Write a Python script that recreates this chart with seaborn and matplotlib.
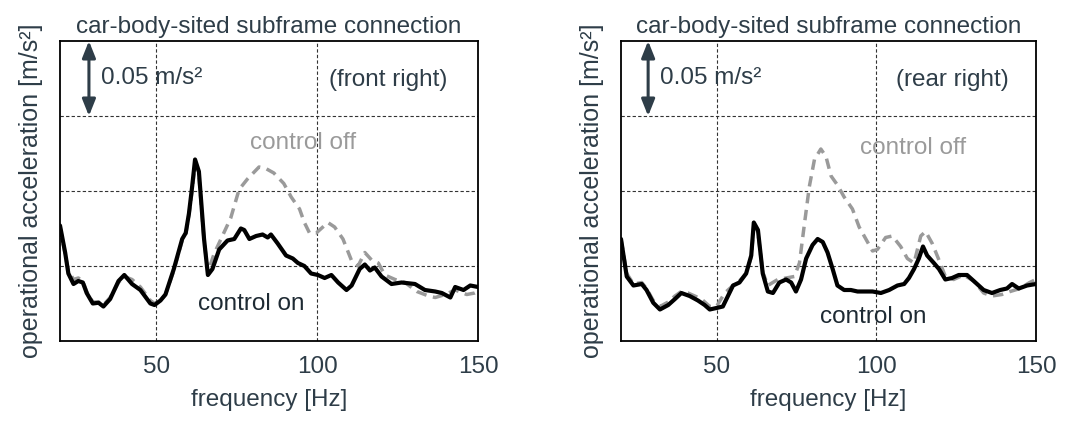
import matplotlib
matplotlib.use("Agg")
import matplotlib.pyplot as plt
import seaborn as sns
import pandas as pd

# ---------------- data ----------------
front_on_f = [20, 21.6, 22.6, 24.2, 25.7, 27.1, 28.3, 30.2, 32.0, 33.5, 35.6, 38.2, 40.0, 42.4, 45.0,
              48.1, 49.4, 51.25, 52.8, 55.4, 58.0, 59.1, 60.1, 61.1, 62.0, 63.2, 64.8, 66.0, 67.4,
              69.5, 72.1, 74.2, 76.25, 77.3, 78.9, 81.0, 83.0, 84.6, 85.6, 87.7, 90.3, 92.4, 94.0,
              96.0, 98.1, 100.2, 102.3, 104.4, 106.5, 109.1, 110.7, 113.2, 114.8, 116.4, 117.9,
              120.0, 123.1, 126.25, 130.4, 133.5, 136.7, 138.75, 141.4, 142.9, 145.5, 147.6, 150]
front_on_a = [0.077, 0.059, 0.045, 0.038, 0.040, 0.039, 0.032, 0.025, 0.0255, 0.023, 0.028, 0.040,
              0.044, 0.038, 0.034, 0.025, 0.024, 0.027, 0.031, 0.048, 0.068, 0.072, 0.085, 0.103,
              0.121, 0.113, 0.068, 0.044, 0.048, 0.061, 0.067, 0.068, 0.075, 0.074, 0.068, 0.070,
              0.071, 0.069, 0.071, 0.065, 0.057, 0.055, 0.052, 0.050, 0.045, 0.044, 0.042, 0.044,
              0.039, 0.034, 0.037, 0.048, 0.051, 0.047, 0.049, 0.043, 0.038, 0.039, 0.038, 0.034,
              0.033, 0.032, 0.029, 0.036, 0.034, 0.037, 0.036]

front_off_f = [20, 21.6, 22.6, 24.2, 25.7, 27.1, 28.3, 30.2, 32.0, 33.5, 35.6, 38.2, 40.0, 42.4, 45.0,
               48.1, 49.4, 51.25, 52.8, 55.4, 58.0, 59.1, 60.1, 61.1, 62.0, 63.2, 64.8, 66.0, 67.9,
               70.5, 73.1, 75.7, 78.3, 81.9, 84.0, 86.5, 89.6, 91.9, 94.5, 96.0, 97.6, 99.7, 103.3,
               105.4, 108.0, 110.6, 112.7, 114.8, 116.9, 119.0, 121.0, 124.2, 127.3, 131.0, 134.6,
               136.7, 139.8, 142.9, 146.5, 149.0, 150]
front_off_a = [0.076, 0.058, 0.047, 0.041, 0.042, 0.040, 0.033, 0.026, 0.026, 0.024, 0.029, 0.039,
               0.043, 0.041, 0.036, 0.027, 0.025, 0.027, 0.031, 0.047, 0.067, 0.071, 0.084, 0.100,
               0.118, 0.110, 0.067, 0.046, 0.058, 0.070, 0.082, 0.101, 0.108, 0.116, 0.115, 0.112,
               0.105, 0.096, 0.088, 0.079, 0.072, 0.072, 0.079, 0.076, 0.068, 0.054, 0.050, 0.059,
               0.054, 0.052, 0.044, 0.041, 0.039, 0.033, 0.030, 0.029, 0.031, 0.034, 0.031, 0.032,
               0.033]

rear_on_f = [20, 21.8, 23.9, 26.5, 28.0, 30.1, 32.2, 34.8, 36.9, 38.9, 41.5, 44.1, 46.2, 47.8, 49.9,
             51.9, 53.5, 55.1, 57.1, 59.2, 60.8, 61.6, 62.9, 64.4, 66.0, 67.6, 69.6, 71.7, 73.3,
             74.8, 76.4, 78.0, 80.0, 81.6, 83.2, 84.7, 86.3, 87.8, 89.9, 92.0, 94.1, 96.7, 98.8,
             101.4, 104.0, 106.6, 108.7, 110.2, 111.8, 113.3, 114.6, 115.9, 118.0, 119.6, 121.6,
             123.7, 125.8, 128.4, 130.5, 133.6, 136.2, 138.8, 140.9, 142.5, 144.6, 147.2, 150]
rear_on_a = [0.068, 0.043, 0.037, 0.038, 0.034, 0.0255, 0.021, 0.024, 0.028, 0.032, 0.030, 0.027,
             0.024, 0.021, 0.022, 0.023, 0.030, 0.037, 0.039, 0.045, 0.057, 0.079, 0.074, 0.045,
             0.033, 0.032, 0.039, 0.041, 0.039, 0.033, 0.041, 0.055, 0.064, 0.068, 0.066, 0.059,
             0.048, 0.037, 0.034, 0.034, 0.033, 0.033, 0.033, 0.032, 0.034, 0.037, 0.038, 0.042,
             0.048, 0.055, 0.063, 0.057, 0.052, 0.048, 0.041, 0.042, 0.044, 0.044, 0.040, 0.034,
             0.032, 0.034, 0.035, 0.038, 0.035, 0.037, 0.038]

rear_off_f = [20, 21.8, 23.9, 26.5, 28.0, 30.1, 32.2, 34.8, 36.9, 38.9, 41.0, 45.2, 47.8, 49.9,
              52.5, 55.1, 57.1, 59.2, 60.8, 61.6, 62.9, 64.4, 66.0, 69.1, 71.7, 74.3, 75.9, 77.4,
              79.0, 80.6, 82.6, 84.2, 85.8, 87.8, 89.9, 92.5, 94.6, 96.7, 98.8, 100.3, 102.9, 105.0,
              107.6, 109.7, 111.8, 113.9, 115.4, 117.5, 119.6, 121.6, 124.2, 127.3, 130.5, 133.6,
              136.2, 139.3, 141.9, 145.0, 148.0, 150]
rear_off_a = [0.068, 0.045, 0.038, 0.039, 0.035, 0.027, 0.023, 0.026, 0.030, 0.033, 0.032, 0.028,
              0.023, 0.023, 0.032, 0.037, 0.040, 0.045, 0.056, 0.076, 0.072, 0.046, 0.037, 0.041,
              0.042, 0.043, 0.052, 0.077, 0.103, 0.121, 0.128, 0.123, 0.110, 0.104, 0.096, 0.088,
              0.076, 0.068, 0.060, 0.061, 0.069, 0.070, 0.063, 0.055, 0.052, 0.070, 0.073, 0.065,
              0.054, 0.043, 0.041, 0.044, 0.040, 0.032, 0.030, 0.031, 0.033, 0.035, 0.039, 0.041]

x_ticks = [50, 100, 150]
y_grid = [0.05, 0.10, 0.15]
title_text = "car-body-sited subframe connection"
panel_labels = ["(front right)", "(rear right)"]
ylabel_text = "operational acceleration [m/s²]"
xlabel_text = "frequency [Hz]"
scale_text = "0.05 m/s²"

# ---------------- style ----------------
sns.set_style("white")
plt.rcParams['font.family'] = ['Liberation Sans', 'DejaVu Sans']

TXT = "#2e3d48"
GRAY = "#9a9a9a"
FS = 17.5

fig = plt.figure(figsize=(10.77, 4.21), dpi=100)
ax1 = fig.add_axes([60 / 1077, 80 / 421, 418 / 1077, 300 / 421])
ax2 = fig.add_axes([621 / 1077, 80 / 421, 415 / 1077, 300 / 421])

panels = [
    (ax1, front_on_f, front_on_a, front_off_f, front_off_a, panel_labels[0],
     29.0, 32.8, (140.5, 0.174), (95.5, 0.132), (79.5, 0.025)),
    (ax2, rear_on_f, rear_on_a, rear_off_f, rear_off_a, panel_labels[1],
     28.5, 32.3, (141.5, 0.174), (111.5, 0.129), (99.0, 0.016)),
]

for (ax, onf, ona, offf, offa, plabel, arx, txx, plpos, offpos, onpos) in panels:
    ax.set_xlim(20, 150)
    ax.set_ylim(0, 0.2)
    for g in x_ticks[:-1]:
        ax.axvline(g, color="#333333", lw=0.8, ls=(0, (3, 2)), zorder=1)
    for g in y_grid:
        ax.axhline(g, color="#333333", lw=0.8, ls=(0, (3, 2)), zorder=1)
    df_off = pd.DataFrame({"f": offf, "a": offa})
    df_on = pd.DataFrame({"f": onf, "a": ona})
    sns.lineplot(data=df_off, x="f", y="a", ax=ax, color=GRAY, lw=2.5, zorder=3)
    ax.lines[-1].set_linestyle((0, (3.0, 1.9)))
    sns.lineplot(data=df_on, x="f", y="a", ax=ax, color="black", lw=3.0, zorder=4)

    ax.set_xticks(x_ticks)
    ax.set_xticklabels([str(t) for t in x_ticks], fontsize=FS, color=TXT)
    ax.set_yticks([])
    ax.tick_params(axis="x", length=0, pad=11)
    ax.set_xlabel(xlabel_text, fontsize=FS, color=TXT, labelpad=8)
    ax.set_ylabel(ylabel_text, fontsize=FS + 0.5, color=TXT, labelpad=12)
    ax.set_title(title_text, fontsize=FS, color=TXT, pad=6)
    for s in ax.spines.values():
        s.set_color("black")
        s.set_linewidth(1.3)

    ax.annotate("", xy=(arx, 0.2), xytext=(arx, 0.15),
                arrowprops=dict(arrowstyle="<|-|>,head_length=1.0,head_width=0.4",
                                color=TXT, lw=2.2, shrinkA=0, shrinkB=0), zorder=5)
    ax.text(txx, 0.1755, scale_text, fontsize=FS, color=TXT, ha="left", va="center")
    ax.text(plpos[0], plpos[1], plabel, fontsize=FS, color=TXT, ha="right", va="center")
    ax.text(offpos[0], offpos[1], "control off", fontsize=FS, color=GRAY,
            ha="center", va="center")
    ax.text(onpos[0], onpos[1], "control on", fontsize=FS, color="#1e2a33",
            ha="center", va="center")

fig.savefig("out.png", dpi=100)
